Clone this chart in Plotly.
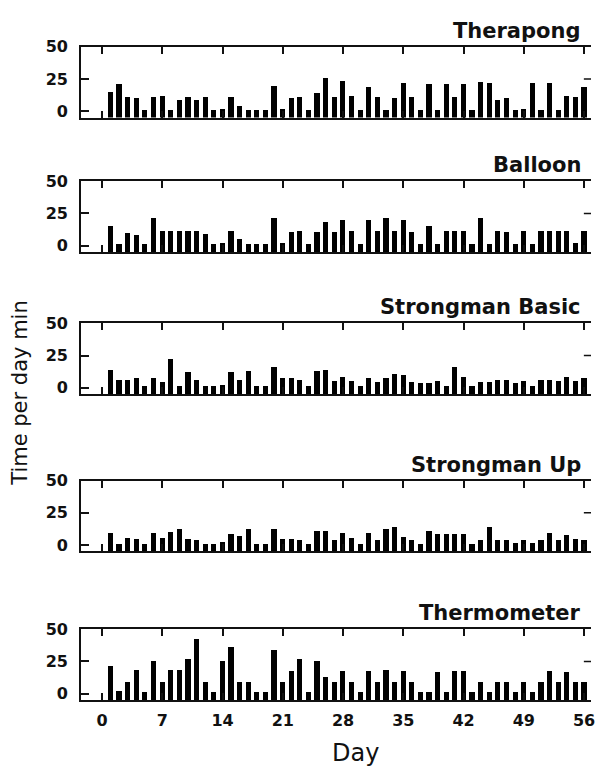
import plotly.graph_objects as go

days = list(range(1, 57))
panel_titles = ["Therapong", "Balloon", "Strongman Basic", "Strongman Up", "Thermometer"]

therapong = [15, 21, 11, 10.5, 1, 11, 12, 1, 9, 11, 9, 11, 1, 2, 11, 4, 1, 1, 1, 20,
             2, 10.5, 11, 1, 14, 26, 11, 24, 12, 1, 19, 11, 1, 10.5, 22, 11, 1, 21, 1, 21,
             11, 21, 1, 23, 22, 9, 10.5, 1, 2, 22, 1, 22, 1, 12, 11, 19]
balloon = [15, 1, 10, 8, 1, 21.5, 11.5, 11.5, 11.5, 11.5, 11.5, 9, 1, 2, 11.5, 5, 1, 1, 1, 21.5,
           2, 10.5, 11.5, 1, 10.5, 18, 10.5, 20, 11.5, 1, 20, 11.5, 21, 11.5, 20, 10.5, 1, 15, 1, 11.5,
           11.5, 11.5, 1, 21.5, 1, 11.5, 10.5, 1, 11.5, 1, 11.5, 11.5, 11.5, 11.5, 2, 11.5]
strongman_basic = [13.5, 5.5, 5.5, 7, 1, 7, 4.5, 22, 1, 12, 5.5, 1, 1, 2, 12, 5.5, 12.5, 1, 1, 16,
                   7, 7, 5.5, 1, 13, 13.5, 5, 8, 5, 1, 7.5, 4.5, 7.5, 10.5, 10, 4.5, 3.5, 3.5, 5, 1,
                   16, 8, 1, 4.5, 4.5, 5.5, 5.5, 3.5, 5, 1, 5.5, 6, 5, 8, 5, 7]
strongman_up = [10, 1.5, 6, 5, 1.5, 10, 6, 10.5, 12.5, 5, 4, 1.5, 1.5, 2.5, 9, 7.5, 12.5, 1.5, 1.5, 12.5,
                5, 5, 4.5, 1.5, 11, 11.5, 4.5, 10, 6, 1.5, 10, 4, 12.5, 14, 6.5, 4.5, 1.5, 11.5, 9, 9,
                9, 9, 1.5, 4.5, 14, 4.5, 4.5, 2, 4, 2, 4.5, 10, 4.5, 8, 5, 4]
thermometer = [21, 2, 9, 18.5, 1, 25.5, 8.5, 18.5, 18.5, 27, 42, 8.5, 1, 25, 36, 8.5, 8.5, 1, 1, 34,
               8.5, 17.5, 27, 1, 25.5, 13, 9, 17.5, 9, 1, 17.5, 9, 18.5, 9, 17.5, 9, 1, 1, 16.5, 1,
               17.5, 17.5, 1, 8.5, 1, 9, 9, 1, 8.5, 1, 9, 17.5, 8.5, 16.5, 8.5, 8.5]
series = [therapong, balloon, strongman_basic, strongman_up, thermometer]

x_ticks = [0, 7, 14, 21, 28, 35, 42, 49, 56]
y_ticks = [0, 25, 50]

W, H = 595, 769
BAR_BASE = -5.0
panel_tops = [38.3, 175.0, 319.3, 479.0, 630.0]
panel_h = 72.0
x_left_px = 81.7
x_range = [-2.42, 56.8]
y_range = [BAR_BASE, 50]
ink = "#111111"

fig = go.Figure()
layout = dict(
    width=W, height=H,
    margin=dict(l=0, r=0, t=0, b=0),
    paper_bgcolor="white", plot_bgcolor="white",
    showlegend=False,
    bargap=0,
)
annotations = []
shapes = []
for i, (title, vals) in enumerate(zip(panel_titles, series)):
    n = i + 1
    xa = "x" if n == 1 else f"x{n}"
    ya = "y" if n == 1 else f"y{n}"
    fig.add_trace(go.Bar(
        x=days, y=[v - BAR_BASE for v in vals], base=BAR_BASE,
        width=0.6, marker=dict(color="black", line=dict(width=0)),
        xaxis=xa, yaxis=ya, hoverinfo="skip",
    ))
    top = panel_tops[i]
    d0 = 1 - (top + panel_h) / H
    d1 = 1 - top / H
    last = (i == len(panel_titles) - 1)
    layout["xaxis" if n == 1 else f"xaxis{n}"] = dict(
        domain=[x_left_px / W, 1.0], range=x_range, anchor=ya,
        tickvals=x_ticks, ticktext=[str(t) for t in x_ticks],
        showticklabels=last, ticks="inside", ticklen=7, tickwidth=1.5, tickcolor=ink,
        showline=True, linewidth=2, linecolor=ink, mirror="ticks",
        showgrid=False, zeroline=False,
        tickfont=dict(family="DejaVu Sans", size=16, color=ink, weight="bold"),
        ticklabelstandoff=5, ticklabeloverflow="allow",
    )
    layout["yaxis" if n == 1 else f"yaxis{n}"] = dict(
        domain=[d0, d1], range=y_range, anchor=xa,
        tickvals=y_ticks, ticks="inside", ticklen=8, tickwidth=1.5, tickcolor=ink,
        showline=True, linewidth=2, linecolor=ink, mirror=False,
        showgrid=False, zeroline=False,
        tickfont=dict(family="DejaVu Sans", size=16, color=ink, weight="bold"),
        ticklabelstandoff=8,
    )
    annotations.append(dict(
        text=title, xref="paper", yref="paper", x=587 / W, y=1 - (top - 2) / H,
        xanchor="right", yanchor="bottom", showarrow=False,
        font=dict(family="DejaVu Sans", size=21, color=ink, weight="bold"),
    ))
    shapes.append(dict(
        type="line", xref=f"{xa} domain", yref=ya, x0=0.986, x1=1.0, y0=25, y1=25,
        line=dict(color=ink, width=1.5),
    ))

annotations.append(dict(
    text="Time per day min", xref="paper", yref="paper", x=20 / W, y=1 - 390 / H,
    xanchor="center", yanchor="middle", textangle=-90, showarrow=False,
    font=dict(family="DejaVu Sans", size=21, color=ink),
))
annotations.append(dict(
    text="Day", xref="paper", yref="paper", x=358 / W, y=1 - 756 / H,
    xanchor="center", yanchor="middle", showarrow=False,
    font=dict(family="DejaVu Sans", size=24, color=ink),
))
layout["annotations"] = annotations
layout["shapes"] = shapes
fig.update_layout(**layout)
fig.write_html(
    "out.html",
    config={"displayModeBar": False},
    post_script="document.body.style.margin='0';document.body.style.overflow='hidden';",
)
